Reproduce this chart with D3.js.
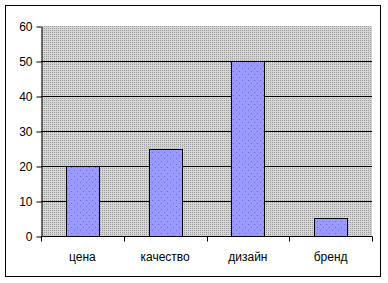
<!DOCTYPE html>
<html>
<head>
<meta charset="utf-8">
<script src="https://cdn.jsdelivr.net/npm/d3@7"></script>
<style>
  body { margin: 0; background: #fff; }
  svg { display: block; font-family: Arial, "Liberation Sans", sans-serif; }
</style>
</head>
<body>
<svg id="chart" width="388" height="283"></svg>
<script>
// chart data
var categories = ["цена", "качество", "дизайн", "бренд"];
var values = [20, 25, 50, 5];
var yTicks = [0, 10, 20, 30, 40, 50, 60];

var svg = d3.select("#chart");
var pLeft = 41, pRight = 372, pTop = 26, pBottom = 236;

// outer frame
svg.append("rect")
  .attr("x", 5.5).attr("y", 5.5)
  .attr("width", 375).attr("height", 271)
  .style("fill", "#fff").style("stroke", "#000").style("stroke-width", 1);

var defs = svg.append("defs");
// grey dotted plot background
var pg = defs.append("pattern").attr("id", "bgpat")
  .attr("width", 2).attr("height", 2).attr("patternUnits", "userSpaceOnUse");
pg.append("rect").attr("width", 2).attr("height", 2).style("fill", "#d4d4d4");
pg.append("rect").attr("width", 1).attr("height", 1).style("fill", "#a0a0a0");

// blue bar fill with sparse dots
var pb = defs.append("pattern").attr("id", "barpat")
  .attr("width", 6).attr("height", 6).attr("patternUnits", "userSpaceOnUse");
pb.append("rect").attr("width", 6).attr("height", 6).style("fill", "#9999ff");
pb.append("rect").attr("x", 2).attr("y", 2).attr("width", 1).attr("height", 1).style("fill", "#6f6fd8");
pb.append("rect").attr("x", 5).attr("y", 5).attr("width", 1).attr("height", 1).style("fill", "#6f6fd8");

var x = d3.scaleBand().domain(categories).range([pLeft, pRight]).paddingInner(0.6).paddingOuter(0.3);
var xb = d3.scaleBand().domain(categories).range([pLeft, pRight]);
var y = d3.scaleLinear().domain([0, 60]).range([pBottom, pTop]);

svg.append("rect")
  .attr("x", pLeft).attr("y", pTop)
  .attr("width", pRight - pLeft).attr("height", pBottom - pTop)
  .style("fill", "url(#bgpat)");

// gridlines
svg.append("g").selectAll("line")
  .data(yTicks.filter(function(d){ return d > 0 && d < 60; }))
  .enter().append("line")
  .attr("x1", pLeft).attr("x2", pRight)
  .attr("y1", function(d){ return Math.round(y(d)) + 0.5; })
  .attr("y2", function(d){ return Math.round(y(d)) + 0.5; })
  .style("stroke", "#000");

// bars
svg.append("g").selectAll("rect")
  .data(values).enter()
  .append("rect")
  .attr("x", function(d, i){ return Math.round(x(categories[i])) + 0.5; })
  .attr("y", function(d){ return Math.round(y(d)) + 0.5; })
  .attr("width", Math.round(x.bandwidth()))
  .attr("height", function(d){ return Math.round(y(0)) - Math.round(y(d)); })
  .style("fill", "url(#barpat)")
  .style("stroke", "#000")
  .style("stroke-width", 1);

// y axis
var yAxis = d3.axisLeft(y).tickValues(yTicks).tickSize(5).tickPadding(4).tickSizeOuter(0);
var yg = svg.append("g").attr("transform", "translate(" + (pLeft + 0.5) + ",0.5)").call(yAxis);

// x axis (ticks at band boundaries)
var bounds = categories.map(function(c){ return xb(c); }).concat([pRight]);
var xg = svg.append("g").attr("transform", "translate(0," + (pBottom + 0.5) + ")");
xg.append("line").attr("x1", pLeft).attr("x2", pRight + 0.5).style("stroke", "#000");
xg.selectAll("line.tk").data(bounds).enter().append("line")
  .attr("class", "tk")
  .attr("x1", function(d){ return Math.round(d) + 0.5; })
  .attr("x2", function(d){ return Math.round(d) + 0.5; })
  .attr("y1", 0).attr("y2", 5)
  .style("stroke", "#000");
xg.selectAll("text").data(categories).enter().append("text")
  .attr("x", function(d){ return xb(d) + xb.bandwidth() / 2; })
  .attr("y", 24)
  .attr("text-anchor", "middle")
  .style("font-size", "12px")
  .style("fill", "#000")
  .text(function(d){ return d; });

yg.selectAll("path.domain").style("stroke", "#000");
yg.selectAll("line").style("stroke", "#000");
yg.selectAll("text").style("font-size", "12px").style("fill", "#000")
  .style("font-family", "Arial, 'Liberation Sans', sans-serif");
</script>
</body>
</html>
